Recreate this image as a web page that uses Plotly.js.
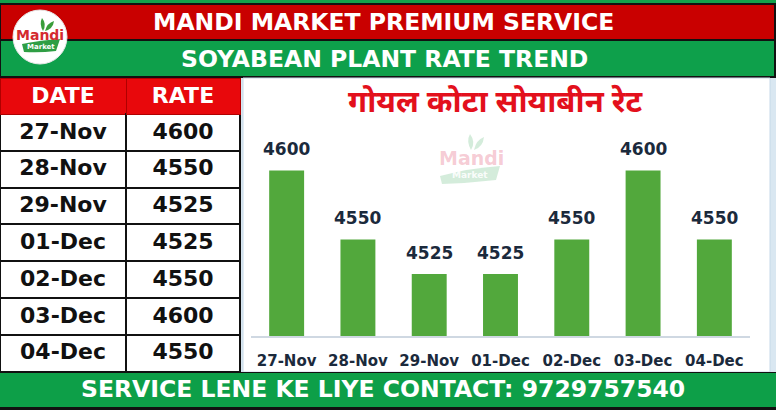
<!DOCTYPE html>
<html><head><meta charset="utf-8">
<script src="https://cdn.plot.ly/plotly-3.0.1.min.js"></script>
<style>html,body{margin:0;padding:0;overflow:hidden;background:#d9e7f1}#chart{width:776px;height:410px}</style>
</head><body><div id="chart"></div>
<script>
// ---- data ----
const dates = ['27-Nov','28-Nov','29-Nov','01-Dec','02-Dec','03-Dec','04-Dec'];
const rates = [4600, 4550, 4525, 4525, 4550, 4600, 4550];
const tableHeaders = ['DATE', 'RATE'];
const headerLine1 = 'MANDI MARKET PREMIUM SERVICE';
const headerLine2 = 'SOYABEAN PLANT RATE TREND';
const chartTitle = 'गोयल कोटा सोयाबीन रेट';
const footerText = 'SERVICE LENE KE LIYE CONTACT: 9729757540';

// ---- helpers (pixel -> paper) ----
const W = 776, H = 410;
const X = p => p / W;
const Y = p => 1 - p / H;
const FONT = 'DejaVu Sans, Liberation Sans, Arial, sans-serif';
function rect(x0, y0, x1, y1, fill, line, lw) {
  return {type:'rect', xref:'paper', yref:'paper', x0:X(x0), x1:X(x1), y0:Y(y1), y1:Y(y0),
    fillcolor:fill, line:{color:line||fill, width:lw===undefined?0:lw}, layer:'below'};
}
function txt(x, y, s, size, color, extra) {
  return Object.assign({xref:'paper', yref:'paper', x:X(x), y:Y(y), text:s, showarrow:false,
    xanchor:'center', yanchor:'middle', font:{family:FONT, size:size, color:color, weight:'bold'}}, extra||{});
}

const shapes = [
  rect(0, 0, 776, 78, '#111111'),
  rect(0, 0, 776, 3, '#12a14b'),
  rect(1, 5, 774, 39, '#c90000'),
  rect(1, 41, 774, 76, '#0ea04b'),
  rect(243, 78, 770, 372, '#ffffff', '#c6d9e8', 1),
  rect(0, 372, 776, 410, '#111111'),
  rect(0, 373, 776, 407, '#0d9f48'),
  // logo
  {type:'circle', xref:'paper', yref:'paper', x0:X(13), x1:X(67), y0:Y(64), y1:Y(10), fillcolor:'#ffffff', line:{color:'#e8e8e8', width:1}},
  {type:'path', xref:'paper', yref:'paper', path:`M ${X(22)} ${Y(44)} Q ${X(42)} ${Y(40)} ${X(60)} ${Y(39)} L ${X(56)} ${Y(51)} Q ${X(40)} ${Y(53)} ${X(24)} ${Y(52)} Z`, fillcolor:'#2f9e44', line:{width:0}},
  {type:'path', xref:'paper', yref:'paper', path:`M ${X(43)} ${Y(31)} Q ${X(39)} ${Y(24)} ${X(42)} ${Y(18)} Q ${X(47)} ${Y(24)} ${X(43)} ${Y(31)} Z`, fillcolor:'#3a9d3a', line:{width:0}},
  {type:'path', xref:'paper', yref:'paper', path:`M ${X(45)} ${Y(31)} Q ${X(47)} ${Y(23)} ${X(54)} ${Y(21)} Q ${X(53)} ${Y(29)} ${X(45)} ${Y(31)} Z`, fillcolor:'#3a9d3a', line:{width:0}},
  // watermark
  {type:'path', xref:'paper', yref:'paper', path:`M ${X(440)} ${Y(176)} Q ${X(470)} ${Y(168)} ${X(500)} ${Y(166)} L ${X(496)} ${Y(180)} Q ${X(470)} ${Y(183)} ${X(442)} ${Y(184)} Z`, fillcolor:'rgba(60,170,90,0.22)', line:{width:0}},
  {type:'path', xref:'paper', yref:'paper', path:`M ${X(471)} ${Y(150)} Q ${X(466)} ${Y(141)} ${X(470)} ${Y(134)} Q ${X(476)} ${Y(142)} ${X(471)} ${Y(150)} Z`, fillcolor:'rgba(60,170,90,0.22)', line:{width:0}},
  {type:'path', xref:'paper', yref:'paper', path:`M ${X(474)} ${Y(150)} Q ${X(476)} ${Y(140)} ${X(484)} ${Y(137)} Q ${X(483)} ${Y(147)} ${X(474)} ${Y(150)} Z`, fillcolor:'rgba(60,170,90,0.22)', line:{width:0}}
];

const annotations = [
  txt(383, 22, headerLine1, 23.5, '#ffffff'),
  txt(384, 59, headerLine2, 23.5, '#ffffff'),
  txt(496, 104, chartTitle, 31, '#e3101c', {font:{family:'Noto Sans Devanagari, Noto Sans, DejaVu Sans, sans-serif', size:31, color:'#e3101c', weight:'bold'}}),
  txt(383, 389, footerText, 23.5, '#ffffff'),
  txt(40, 35, 'Mandi', 14, '#d42a2f'),
  txt(41, 47, 'Market', 7, '#ffffff'),
  txt(472, 158, 'Mandi', 19, 'rgba(225,80,110,0.30)'),
  txt(470, 175, 'Market', 9, 'rgba(255,255,255,0.9)')
];
// value labels above bars, positioned via data axes
dates.forEach((d, i) => {
  annotations.push({xref:'x', yref:'y', x:d, y:rates[i], yshift:21, text:String(rates[i]), showarrow:false,
    font:{family:FONT, size:17, color:'#1b2a3c', weight:'bold'}});
});

const bar = {
  type:'bar', x:dates, y:rates, width:0.49,
  marker:{color:'#52a83c', line:{width:0}},
  hoverinfo:'skip', cliponaxis:false
};

const table = {
  type:'table',
  domain:{x:[0, X(240)], y:[Y(372), Y(78)]},
  columnwidth:[126, 114],
  header:{values:tableHeaders, align:'center', height:36,
    fill:{color:'#e8080c'}, line:{color:'#b00000', width:1},
    font:{family:FONT, size:22, color:'#ffffff', weight:'bold'}},
  cells:{values:[dates, rates], align:'center', height:36.8,
    fill:{color:'#ffffff'}, line:{color:'#111111', width:2},
    font:{family:FONT, size:22, color:'#111111', weight:'bold'}}
};

const layout = {
  width:W, height:H, autosize:false,
  margin:{l:0, r:0, t:0, b:0, pad:0},
  paper_bgcolor:'#d9e7f1', plot_bgcolor:'rgba(0,0,0,0)',
  showlegend:false,
  xaxis:{domain:[X(251), X(750)], type:'category', showline:true, linecolor:'#cfd8e2', linewidth:2,
    showgrid:false, zeroline:false, ticks:'', ticklabelstandoff:10,
    tickfont:{family:FONT, size:15, color:'#1b2a3c', weight:'bold'}, fixedrange:true},
  yaxis:{domain:[Y(336), Y(120)], range:[4480, 4636.5], visible:false, showgrid:false, zeroline:false, fixedrange:true},
  bargap:0.5,
  shapes:shapes,
  annotations:annotations
};

Plotly.newPlot('chart', [table, bar], layout, {displayModeBar:false, staticPlot:true});
</script></body></html>
